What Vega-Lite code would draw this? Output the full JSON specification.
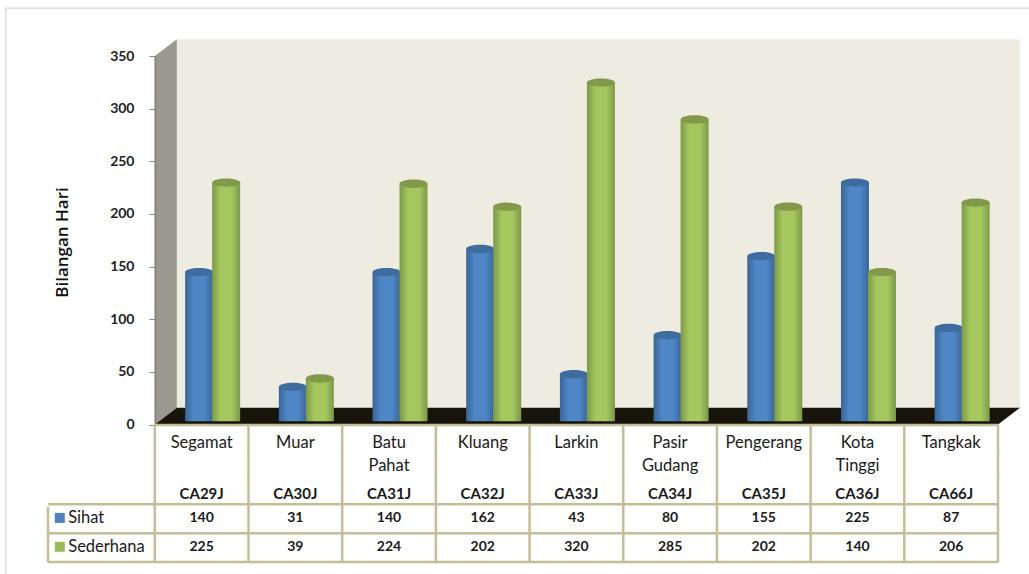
{"$schema":"https://vega.github.io/schema/vega-lite/v6.json","background":"white","padding":{"left":5,"top":7,"right":0,"bottom":0},"spacing":0,"bounds":"flush","config":{"view":{"stroke":null},"font":"Lato"},
"datasets":{"bars":[
{"station":"Segamat","series":"Sihat","center":0.5,"value":140},{"station":"Muar","series":"Sihat","center":1.5,"value":31},{"station":"Batu Pahat","series":"Sihat","center":2.5,"value":140},{"station":"Kluang","series":"Sihat","center":3.5,"value":162},{"station":"Larkin","series":"Sihat","center":4.5,"value":43},{"station":"Pasir Gudang","series":"Sihat","center":5.5,"value":80},{"station":"Pengerang","series":"Sihat","center":6.5,"value":155},{"station":"Kota Tinggi","series":"Sihat","center":7.5,"value":225},{"station":"Tangkak","series":"Sihat","center":8.5,"value":87},
{"station":"Segamat","series":"Sederhana","center":0.5,"value":225},{"station":"Muar","series":"Sederhana","center":1.5,"value":39},{"station":"Batu Pahat","series":"Sederhana","center":2.5,"value":224},{"station":"Kluang","series":"Sederhana","center":3.5,"value":202},{"station":"Larkin","series":"Sederhana","center":4.5,"value":320},{"station":"Pasir Gudang","series":"Sederhana","center":5.5,"value":285},{"station":"Pengerang","series":"Sederhana","center":6.5,"value":202},{"station":"Kota Tinggi","series":"Sederhana","center":7.5,"value":140},{"station":"Tangkak","series":"Sederhana","center":8.5,"value":206}],
"bases":[{"center":0.5,"value":3},{"center":1.5,"value":3},{"center":2.5,"value":3},{"center":3.5,"value":3},{"center":4.5,"value":3},{"center":5.5,"value":3},{"center":6.5,"value":3},{"center":7.5,"value":3},{"center":8.5,"value":3}],
"labels":[
{"row":"n1","center":0.5,"text":"Segamat"},{"row":"n1","center":1.5,"text":"Muar"},{"row":"n1","center":2.5,"text":"Batu"},{"row":"n1","center":3.5,"text":"Kluang"},{"row":"n1","center":4.5,"text":"Larkin"},{"row":"n1","center":5.5,"text":"Pasir"},{"row":"n1","center":6.5,"text":"Pengerang"},{"row":"n1","center":7.5,"text":"Kota"},{"row":"n1","center":8.5,"text":"Tangkak"},
{"row":"n2","center":2.5,"text":"Pahat"},{"row":"n2","center":5.5,"text":"Gudang"},{"row":"n2","center":7.5,"text":"Tinggi"},
{"row":"code","center":0.5,"text":"CA29J"},{"row":"code","center":1.5,"text":"CA30J"},{"row":"code","center":2.5,"text":"CA31J"},{"row":"code","center":3.5,"text":"CA32J"},{"row":"code","center":4.5,"text":"CA33J"},{"row":"code","center":5.5,"text":"CA34J"},{"row":"code","center":6.5,"text":"CA35J"},{"row":"code","center":7.5,"text":"CA36J"},{"row":"code","center":8.5,"text":"CA66J"}],
"edges":[{"row":"n1","edge":[0,1,2,3,4,5,6,7,8,9]},{"row":"n2","edge":[0,1,2,3,4,5,6,7,8,9]},{"row":"code","edge":[0,1,2,3,4,5,6,7,8,9]},{"row":"Sihat","edge":[-1.14,0,1,2,3,4,5,6,7,8,9]},{"row":"Sederhana","edge":[-1.14,0,1,2,3,4,5,6,7,8,9]}]},
"vconcat":[
{"width":950,"height":368.5,
"encoding":{"x":{"field":"center","type":"quantitative","scale":{"domain":[-1.14,9],"nice":false,"zero":false,"padding":0},"axis":null},
"y":{"field":"value","type":"quantitative","scale":{"domain":[0,350],"nice":false,"padding":0}}},
"layer":[
{"data":{"values":[{"center":-1.59,"end":9.33,"value":395.5}]},"mark":{"type":"rule","color":"#CCCCCC","size":1},"encoding":{"x2":{"field":"end"}}},
{"data":{"values":[{"center":-1.59,"value":0,"end":395.5}]},"mark":{"type":"rule","color":"#CCCCCC","size":1},"encoding":{"y2":{"field":"end"}}},
{"data":{"values":[{"center":0.235,"xend":9.235,"value":16,"yend":366}]},"mark":{"type":"rect","fill":"#EEEBE0"},"encoding":{"x2":{"field":"xend"},"y2":{"field":"yend"}}},
{"data":{"values":[{"center":0,"value":0,"yend":350},{"center":0.235,"value":16,"yend":366}]},"mark":{"type":"area","fill":"#9C9A90","orient":"vertical"},"encoding":{"y2":{"field":"yend"}}},
{"data":{"values":[{"center":0,"value":0,"yend":0},{"center":0.235,"value":0,"yend":16},{"center":9,"value":0,"yend":16},{"center":9.235,"value":16,"yend":16}]},"mark":{"type":"area","fill":"#16140B","orient":"vertical"},"encoding":{"y2":{"field":"yend"}}},
{"data":{"name":"bases"},"mark":{"type":"point","filled":true,"opacity":1,"shape":"M-1,0A1,0.3 0 1 1 1,0A1,0.3 0 1 1 -1,0Z","size":784,"xOffset":-2.5,"yOffset":-5,"fill":{"x1":0,"y1":0,"x2":1,"y2":0,"gradient":"linear","stops":[{"offset":0,"color":"#3A6596"},{"offset":0.3,"color":"#4F86C6"},{"offset":0.7,"color":"#4F86C6"},{"offset":1,"color":"#3A6596"}]}}},
{"data":{"name":"bars"},"transform":[{"filter":"datum.series==='Sihat'"}],"mark":{"type":"bar","size":28,"xOffset":-2.5,"yOffset":-5,"fill":{"x1":0,"y1":0,"x2":1,"y2":0,"gradient":"linear","stops":[{"offset":0,"color":"#3A6596"},{"offset":0.3,"color":"#4F86C6"},{"offset":0.7,"color":"#4F86C6"},{"offset":1,"color":"#3A6596"}]}},"encoding":{"y2":{"datum":3}}},
{"data":{"name":"bars"},"transform":[{"filter":"datum.series==='Sihat'"}],"mark":{"type":"point","filled":true,"opacity":1,"fill":"#3F6C9F","shape":"M-1,0A1,0.3 0 1 1 1,0A1,0.3 0 1 1 -1,0Z","size":784,"xOffset":-2.5,"yOffset":-5}},
{"data":{"name":"bases"},"mark":{"type":"point","filled":true,"opacity":1,"shape":"M-1,0A1,0.3 0 1 1 1,0A1,0.3 0 1 1 -1,0Z","size":784,"xOffset":24.5,"yOffset":-5,"fill":{"x1":0,"y1":0,"x2":1,"y2":0,"gradient":"linear","stops":[{"offset":0,"color":"#7C9848"},{"offset":0.3,"color":"#A6C65E"},{"offset":0.7,"color":"#A6C65E"},{"offset":1,"color":"#7C9848"}]}}},
{"data":{"name":"bars"},"transform":[{"filter":"datum.series==='Sederhana'"}],"mark":{"type":"bar","size":28,"xOffset":24.5,"yOffset":-5,"fill":{"x1":0,"y1":0,"x2":1,"y2":0,"gradient":"linear","stops":[{"offset":0,"color":"#7C9848"},{"offset":0.3,"color":"#A6C65E"},{"offset":0.7,"color":"#A6C65E"},{"offset":1,"color":"#7C9848"}]}},"encoding":{"y2":{"datum":3}}},
{"data":{"name":"bars"},"transform":[{"filter":"datum.series==='Sederhana'"}],"mark":{"type":"point","filled":true,"opacity":1,"fill":"#82994C","shape":"M-1,0A1,0.3 0 1 1 1,0A1,0.3 0 1 1 -1,0Z","size":784,"xOffset":24.5,"yOffset":-5}},
{"data":{"values":[{"center":0,"value":0}]},"mark":{"type":"rule","opacity":0},"encoding":{"y":{"field":"value","type":"quantitative","axis":{"values":[0,50,100,150,200,250,300,350],"offset":-107,"grid":false,"domainColor":"#868686","domainWidth":2,"tickColor":"#868686","tickSize":6,"labelPadding":15,"labelFont":"Lato","labelFontWeight":"bold","labelFontSize":14,"labelColor":"#222222","title":"Bilangan Hari","titleFont":"Open Sans","titleFontWeight":600,"titleFontSize":17,"titleColor":"#111111","titleX":-84,"titleY":186,"titleAnchor":"middle","zindex":1}}}}
]},
{"width":950,"height":150.5,
"encoding":{"x":{"type":"quantitative","scale":{"domain":[-1.14,9],"nice":false,"zero":false},"axis":null},
"y":{"field":"row","type":"nominal","scale":{"type":"band","domain":["n1","n2","code","Sihat","Sederhana"],"range":[0,137],"paddingInner":0,"paddingOuter":0},"axis":null}},
"layer":[
{"data":{"values":[{}]},"mark":{"type":"rule","color":"#CCCCCC","size":1},"encoding":{"x":{"datum":-1.59},"y":{"value":0},"y2":{"value":150.5}}},
{"data":{"name":"edges"},"transform":[{"flatten":["edge"]}],"mark":{"type":"tick","color":"#C4BD97","thickness":2.5,"size":28,"opacity":1},"encoding":{"x":{"field":"edge","type":"quantitative"}}},
{"data":{"values":[{"row":"n1","from":0,"to":9}]},"mark":{"type":"rule","color":"#C4BD97","size":2.5},"encoding":{"x":{"field":"from","type":"quantitative"},"x2":{"field":"to"},"y":{"field":"row","type":"nominal","bandPosition":0}}},
{"data":{"values":[{"row":"Sihat","from":-1.14,"to":9}]},"mark":{"type":"rule","color":"#C4BD97","size":2.5,"yOffset":-3},"encoding":{"x":{"field":"from","type":"quantitative"},"x2":{"field":"to"},"y":{"field":"row","type":"nominal","bandPosition":0}}},
{"data":{"values":[{"row":"Sederhana","from":-1.14,"to":9}]},"mark":{"type":"rule","color":"#C4BD97","size":2.5,"yOffset":-1.4},"encoding":{"x":{"field":"from","type":"quantitative"},"x2":{"field":"to"},"y":{"field":"row","type":"nominal","bandPosition":0}}},
{"data":{"values":[{"row":"Sederhana","from":-1.14,"to":9}]},"mark":{"type":"rule","color":"#C4BD97","size":2.5},"encoding":{"x":{"field":"from","type":"quantitative"},"x2":{"field":"to"},"y":{"field":"row","type":"nominal","bandPosition":1}}},
{"data":{"name":"labels"},"transform":[{"filter":"datum.row==='n1'"}],"mark":{"type":"text","fontSize":16.5,"color":"#1A1A1A","dy":4},"encoding":{"x":{"field":"center","type":"quantitative"},"text":{"field":"text"}}},
{"data":{"name":"labels"},"transform":[{"filter":"datum.row==='n2'"}],"mark":{"type":"text","fontSize":16.5,"color":"#1A1A1A"},"encoding":{"x":{"field":"center","type":"quantitative"},"text":{"field":"text"}}},
{"data":{"name":"labels"},"transform":[{"filter":"datum.row==='code'"}],"mark":{"type":"text","fontSize":15,"fontWeight":"bold","color":"#1A1A1A"},"encoding":{"x":{"field":"center","type":"quantitative"},"text":{"field":"text"}}},
{"data":{"name":"bars"},"transform":[{"filter":"datum.series==='Sihat'"}],"mark":{"type":"text","fontSize":14,"fontWeight":"bold","color":"#1A1A1A","dy":-3},"encoding":{"x":{"field":"center","type":"quantitative"},"y":{"field":"series","type":"nominal"},"text":{"field":"value","type":"quantitative"}}},
{"data":{"name":"bars"},"transform":[{"filter":"datum.series==='Sederhana'"}],"mark":{"type":"text","fontSize":14,"fontWeight":"bold","color":"#1A1A1A","dy":-1.5},"encoding":{"x":{"field":"center","type":"quantitative"},"y":{"field":"series","type":"nominal"},"text":{"field":"value","type":"quantitative"}}},
{"data":{"values":[{"series":"Sihat"}]},"mark":{"type":"point","shape":"square","filled":true,"opacity":1,"size":100,"fill":"#4F81BD","yOffset":-3},"encoding":{"x":{"datum":-1.014},"y":{"field":"series","type":"nominal"}}},
{"data":{"values":[{"series":"Sederhana"}]},"mark":{"type":"point","shape":"square","filled":true,"opacity":1,"size":100,"fill":"#9BBB59","yOffset":-1.5},"encoding":{"x":{"datum":-1.014},"y":{"field":"series","type":"nominal"}}},
{"data":{"values":[{"series":"Sihat"}]},"mark":{"type":"text","align":"left","fontSize":16.5,"color":"#1A1A1A","dy":-3},"encoding":{"x":{"datum":-0.924},"y":{"field":"series","type":"nominal"},"text":{"field":"series"}}},
{"data":{"values":[{"series":"Sederhana"}]},"mark":{"type":"text","align":"left","fontSize":16.5,"color":"#1A1A1A","dy":-1.5},"encoding":{"x":{"datum":-0.924},"y":{"field":"series","type":"nominal"},"text":{"field":"series"}}}
]}
]}
